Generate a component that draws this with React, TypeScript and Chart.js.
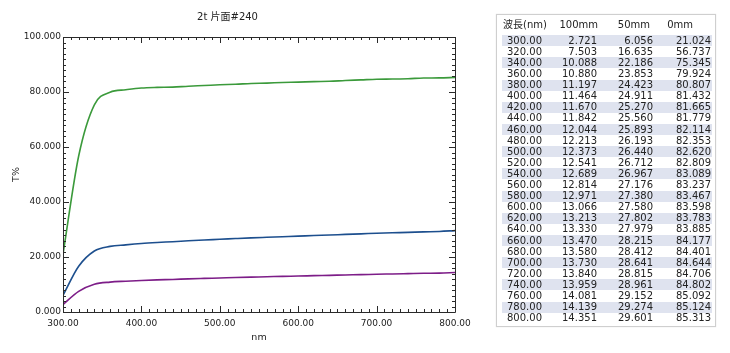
import React, { useEffect, useRef } from "react";
import { Chart, registerables } from "chart.js";

Chart.register(...registerables);

const TITLE = "2t 片面#240";
const X_TITLE = "nm";
const Y_TITLE = "T%";
const HEADERS = ["波長(nm)", "100mm", "50mm", "0mm"];

const wavelengths = [300, 320, 340, 360, 380, 400, 420, 440, 460, 480, 500, 520, 540, 560, 580, 600, 620, 640, 660, 680, 700, 720, 740, 760, 780, 800];
const t100 = [2.721, 7.503, 10.088, 10.88, 11.197, 11.464, 11.67, 11.842, 12.044, 12.213, 12.373, 12.541, 12.689, 12.814, 12.971, 13.066, 13.213, 13.33, 13.47, 13.58, 13.73, 13.84, 13.959, 14.081, 14.139, 14.351];
const t50 = [6.056, 16.635, 22.186, 23.853, 24.423, 24.911, 25.27, 25.56, 25.893, 26.193, 26.44, 26.712, 26.967, 27.176, 27.38, 27.58, 27.802, 27.979, 28.215, 28.412, 28.641, 28.815, 28.961, 29.152, 29.274, 29.601];
const t0 = [21.024, 56.737, 75.345, 79.924, 80.807, 81.432, 81.665, 81.779, 82.114, 82.353, 82.62, 82.809, 83.089, 83.237, 83.467, 83.598, 83.783, 83.885, 84.177, 84.401, 84.644, 84.706, 84.802, 85.092, 85.124, 85.313];

const FONT = '"DejaVu Sans", "Noto Sans CJK JP", sans-serif';

const frameTicks = {
  id: "frameTicks",
  afterDatasetsDraw(chart: any) {
    const { ctx, chartArea, scales } = chart;
    const { left, right, top, bottom } = chartArea;
    const xs = scales.x;
    const ys = scales.y;
    ctx.save();
    ctx.strokeStyle = "#2a2a2a";
    ctx.lineWidth = 1;
    ctx.beginPath();
    ctx.rect(left + 0.5, top + 0.5, right - left, bottom - top);
    ctx.stroke();
    ctx.beginPath();
    for (let v = xs.min; v <= xs.max + 1e-6; v += 10) {
      const px = Math.round(xs.getPixelForValue(v)) + 0.5;
      const len = Math.abs(v % 100) < 1e-6 ? 6 : 3;
      ctx.moveTo(px, bottom);
      ctx.lineTo(px, bottom - len);
      ctx.moveTo(px, top);
      ctx.lineTo(px, top + len);
    }
    for (let v = ys.min; v <= ys.max + 1e-6; v += 2) {
      const py = Math.round(ys.getPixelForValue(v)) + 0.5;
      const len = Math.abs(v % 20) < 1e-6 ? 6 : 3;
      ctx.moveTo(left, py);
      ctx.lineTo(left + len, py);
      ctx.moveTo(right, py);
      ctx.lineTo(right - len, py);
    }
    ctx.stroke();
    ctx.restore();
  },
};

function makeData(vals: number[]) {
  return wavelengths.map((w, i) => ({ x: w, y: vals[i] }));
}

const ROW0 = 40.7;
const ROWH = 11.1;

export default function App() {
  const ref = useRef<HTMLCanvasElement | null>(null);

  useEffect(() => {
    if (!ref.current) return;
    const chart = new Chart(ref.current, {
      type: "line",
      data: {
        datasets: [
          { label: "0mm", data: makeData(t0), borderColor: "#3b9a3b", borderWidth: 1.6, pointRadius: 0, cubicInterpolationMode: "monotone", fill: false },
          { label: "50mm", data: makeData(t50), borderColor: "#1d4f8e", borderWidth: 1.6, pointRadius: 0, cubicInterpolationMode: "monotone", fill: false },
          { label: "100mm", data: makeData(t100), borderColor: "#7d1d88", borderWidth: 1.6, pointRadius: 0, cubicInterpolationMode: "monotone", fill: false },
        ],
      },
      options: {
        animation: false,
        responsive: false,
        devicePixelRatio: 1,
        layout: { padding: { left: 0, top: 0, right: 63, bottom: 0 } },
        plugins: {
          legend: { display: false },
          tooltip: { enabled: false },
          title: {
            display: true,
            text: TITLE,
            color: "#222",
            font: { family: FONT, size: 10, weight: "normal", lineHeight: 1.2 },
            padding: { top: 11, bottom: 14 },
          },
        },
        scales: {
          x: {
            type: "linear",
            min: 300,
            max: 800,
            grid: { display: false, drawTicks: false },
            border: { display: false },
            ticks: {
              stepSize: 100,
              autoSkip: false,
              maxRotation: 0,
              padding: 6,
              color: "#222",
              font: { family: FONT, size: 9 },
              callback: (v: any) => Number(v).toFixed(2),
            },
            title: {
              display: true,
              text: X_TITLE,
              color: "#222",
              font: { family: FONT, size: 9.5, lineHeight: 1.2 },
              padding: { top: 0, bottom: 9.6 },
            },
            afterFit: (s: any) => {
              s.height = 41;
            },
          },
          y: {
            type: "linear",
            min: 0,
            max: 100,
            grid: { display: false, drawTicks: false },
            border: { display: false },
            ticks: {
              stepSize: 20,
              autoSkip: false,
              padding: 2,
              color: "#222",
              font: { family: FONT, size: 9 },
              callback: (v: any) => Number(v).toFixed(3),
            },
            title: {
              display: true,
              text: Y_TITLE,
              color: "#222",
              font: { family: FONT, size: 9.5, lineHeight: 1.2 },
              padding: { top: 11.3, bottom: 0 },
            },
            afterFit: (s: any) => {
              s.width = 63;
            },
          },
        },
      } as any,
      plugins: [frameTicks],
    });
    return () => chart.destroy();
  }, []);

  const cell = (text: string, x: number, cy: number, align: "left" | "right", key: string) => {
    const style: React.CSSProperties = {
      position: "absolute",
      top: cy - 6,
      height: 12,
      lineHeight: "12px",
      whiteSpace: "nowrap",
      width: 80,
      textAlign: align,
      left: align === "left" ? x : x - 80,
    };
    return (
      <div key={key} style={style}>
        {text}
      </div>
    );
  };

  return (
    <div style={{ position: "fixed", left: 0, top: 0, width: 730, height: 353, background: "#fff", overflow: "hidden" }}>
      <canvas ref={ref} width={518} height={353} style={{ position: "absolute", left: 0, top: 0, width: 518, height: 353 }} />
      <div
        style={{
          position: "absolute",
          left: 496,
          top: 14,
          width: 220,
          height: 313,
          border: "1px solid #cfcfcf",
          boxSizing: "border-box",
          background: "#fff",
          boxShadow: "0 0 1px rgba(0,0,0,0.15)",
        }}
      />
      <div style={{ position: "absolute", left: 0, top: 0, width: 730, height: 353, fontFamily: FONT, fontSize: 10, color: "#222" }}>
        {wavelengths.map((w, i) =>
          i % 2 === 0 ? (
            <div key={"s" + i} style={{ position: "absolute", left: 502, width: 210, top: ROW0 + i * ROWH - ROWH / 2, height: ROWH, background: "#dfe3ef" }} />
          ) : null
        )}
        {cell(HEADERS[0], 503, 25, "left", "h0")}
        {cell(HEADERS[1], 598, 25, "right", "h1")}
        {cell(HEADERS[2], 650, 25, "right", "h2")}
        {cell(HEADERS[3], 693, 25, "right", "h3")}
        {wavelengths.map((w, i) => {
          const cy = ROW0 + i * ROWH;
          return (
            <React.Fragment key={"r" + i}>
              {cell(w.toFixed(2), 507, cy, "left", "a" + i)}
              {cell(t100[i].toFixed(3), 597, cy, "right", "b" + i)}
              {cell(t50[i].toFixed(3), 653, cy, "right", "c" + i)}
              {cell(t0[i].toFixed(3), 711, cy, "right", "d" + i)}
            </React.Fragment>
          );
        })}
      </div>
    </div>
  );
}
